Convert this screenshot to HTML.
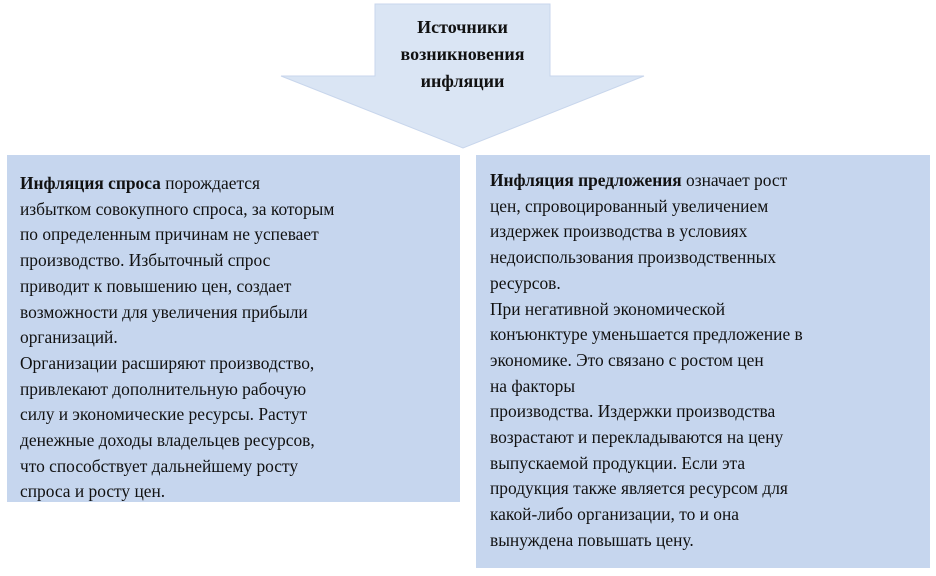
<!DOCTYPE html>
<html><head><meta charset="utf-8"><style>
body{margin:0;width:936px;height:576px;background:#fff;position:relative;overflow:hidden;font-family:"Liberation Serif","DejaVu Serif",serif;color:#111}
.box{position:absolute;background:#c6d6ee;}
.t{position:absolute;font-size:17.4px;line-height:25.7px;white-space:nowrap}
.title{position:absolute;left:365px;top:14px;width:195px;text-align:center;font-weight:bold;font-size:18px;line-height:27px}
</style></head><body>
<svg width="936" height="576" style="position:absolute;left:0;top:0">
<polygon points="375,4 550,4 550,76 644,76 463,148 281,76 375,76" fill="#dae5f4" stroke="#c8d6ec" stroke-width="1"/>
</svg>
<div class="title">Источники<br>возникновения<br>инфляции</div>
<div class="box" style="left:7px;top:155px;width:453px;height:347px"></div>
<div class="box" style="left:476px;top:155px;width:454px;height:413px"></div>
<div class="t" style="left:20px;top:171px"><b>Инфляция спроса</b> порождается<br>избытком совокупного спроса, за которым<br>по определенным причинам не успевает<br>производство. Избыточный спрос<br>приводит к повышению цен, создает<br>возможности для увеличения прибыли<br>организаций.<br>Организации расширяют производство,<br>привлекают дополнительную рабочую<br>силу и экономические ресурсы. Растут<br>денежные доходы владельцев ресурсов,<br>что способствует дальнейшему росту<br>спроса и росту цен.</div>
<div class="t" style="left:490px;top:168px"><b>Инфляция предложения</b> означает рост<br>цен, спровоцированный увеличением<br>издержек производства в условиях<br>недоиспользования производственных<br>ресурсов.<br>При негативной экономической<br>конъюнктуре уменьшается предложение в<br>экономике. Это связано с ростом цен<br>на факторы<br>производства. Издержки производства<br>возрастают и перекладываются на цену<br>выпускаемой продукции. Если эта<br>продукция также является ресурсом для<br>какой-либо организации, то и она<br>вынуждена повышать цену.</div>
</body></html>
